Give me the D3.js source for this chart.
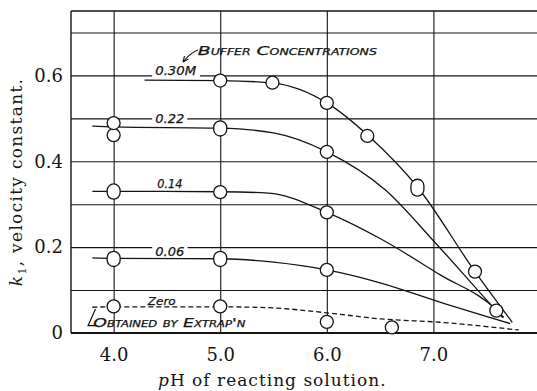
<!DOCTYPE html>
<html>
<head>
<meta charset="utf-8">
<script src="https://cdn.jsdelivr.net/npm/d3@7/dist/d3.min.js"></script>
<style>
  body { margin: 0; background: #fff; }
  svg { display: block; }
</style>
</head>
<body>
<div id="chart"></div>
<script>
// pH values and tick labels
const xTicks = [4.0, 5.0, 6.0, 7.0];
const xTickLabels = ["4.0", "5.0", "6.0", "7.0"];
const yTicks = [0, 0.2, 0.4, 0.6];
const yTickLabels = ["0", "0.2", "0.4", "0.6"];
const yGrid = [0.1, 0.2, 0.3, 0.4, 0.5, 0.6, 0.7];

const seriesNames = ["0.30M", "0.22", "0.14", "0.06", "Zero"];

// drawn curves, [pH, k1]
const curve30 = [[4.29, 0.589], [5.0, 0.588], [5.5, 0.582], [6.0, 0.536], [6.4, 0.457], [6.85, 0.34], [7.39, 0.143], [7.74, 0.025]];
const curve22 = [[3.8, 0.482], [4.0, 0.48], [5.0, 0.477], [5.5, 0.466], [6.0, 0.422], [6.55, 0.333], [7.0, 0.215], [7.59, 0.052], [7.65, 0.036]];
const curve14 = [[3.8, 0.33], [4.0, 0.33], [5.0, 0.329], [5.45, 0.326], [6.0, 0.281], [6.5, 0.22], [7.06, 0.136], [7.59, 0.054], [7.66, 0.036]];
const curve06 = [[3.8, 0.175], [4.0, 0.174], [5.0, 0.173], [5.5, 0.165], [6.0, 0.147], [6.5, 0.117], [7.06, 0.072], [7.72, 0.022]];
const curveZero = [[3.8, 0.06], [4.0, 0.061], [5.0, 0.061], [5.45, 0.059], [6.0, 0.047], [6.5, 0.033], [7.06, 0.025], [7.5, 0.015], [7.8, 0.007]];

// measured points, [pH, k1 low, k1 high] (low != high drawn as an oval)
const points30 = [[5.0, 0.588, 0.588], [5.49, 0.583, 0.583], [6.0, 0.536, 0.536], [6.38, 0.459, 0.459], [6.85, 0.334, 0.343], [7.39, 0.143, 0.143]];
const points22 = [[4.0, 0.461, 0.461], [4.0, 0.489, 0.489], [5.0, 0.474, 0.479], [6.0, 0.422, 0.422], [7.59, 0.052, 0.052]];
const points14 = [[4.0, 0.327, 0.332], [5.0, 0.328, 0.328], [6.0, 0.281, 0.281]];
const points06 = [[4.0, 0.17, 0.175], [5.0, 0.17, 0.175], [6.0, 0.147, 0.147]];
const pointsZero = [[4.0, 0.062, 0.062], [5.0, 0.062, 0.062], [6.0, 0.026, 0.026], [6.61, 0.013, 0.013]];

const W = 537, H = 391;
const x = d3.scaleLinear().domain([3.6, 8.0]).range([71, 540]);
const y = d3.scaleLinear().domain([0, 0.75]).range([333, 11]);
const ink = "#141414";
const serif = "'DejaVu Serif', serif";
const hand = "'DejaVu Sans', sans-serif";

const svg = d3.select("#chart").append("svg")
  .attr("width", W).attr("height", H)
  .attr("viewBox", `0 0 ${W} ${H}`);

svg.append("rect").attr("width", W).attr("height", H).attr("fill", "#fff");

// grid
const yGridG = svg.append("g")
  .attr("transform", `translate(${x(3.6)},0)`)
  .call(d3.axisLeft(y).tickValues(yGrid).tickSize(-(W - x(3.6))).tickFormat(""));
yGridG.select(".domain").remove();
yGridG.selectAll("line").attr("stroke", ink).attr("stroke-width", 1.1);

const xGridG = svg.append("g")
  .attr("transform", `translate(0,${y(0)})`)
  .call(d3.axisBottom(x).tickValues(xTicks).tickSize(-(y(0) - y(0.75))).tickFormat(""));
xGridG.select(".domain").remove();
xGridG.selectAll("line").attr("stroke", ink).attr("stroke-width", 1.1);

// frame
svg.append("line").attr("x1", x(3.6)).attr("x2", x(3.6)).attr("y1", y(0.75)).attr("y2", y(0))
  .attr("stroke", ink).attr("stroke-width", 1.4);
svg.append("line").attr("x1", x(3.6)).attr("x2", W).attr("y1", y(0.75)).attr("y2", y(0.75))
  .attr("stroke", ink).attr("stroke-width", 1.6);
svg.append("line").attr("x1", x(3.6)).attr("x2", W).attr("y1", y(0)).attr("y2", y(0))
  .attr("stroke", ink).attr("stroke-width", 2.2);

// tick labels
const yAx = svg.append("g")
  .attr("transform", `translate(${x(3.6)},0)`)
  .call(d3.axisLeft(y).tickValues(yTicks).tickSize(0).tickPadding(8)
    .tickFormat((d, i) => yTickLabels[i]));
yAx.select(".domain").remove();
yAx.selectAll("text").attr("font-family", serif).attr("font-size", 18).attr("fill", ink);

const xAx = svg.append("g")
  .attr("transform", `translate(0,${y(0)})`)
  .call(d3.axisBottom(x).tickValues(xTicks).tickSize(0).tickPadding(15)
    .tickFormat((d, i) => xTickLabels[i]));
xAx.select(".domain").remove();
xAx.selectAll("text").attr("font-family", serif).attr("font-size", 18).attr("fill", ink);

// axis titles
const xt = svg.append("text")
  .attr("x", 158).attr("y", 386)
  .attr("letter-spacing", 1)
  .attr("font-family", serif).attr("font-size", 17).attr("fill", ink);
xt.append("tspan").attr("font-style", "italic").text("p");
xt.append("tspan").text("H of reacting solution.");

const yt = svg.append("text")
  .attr("transform", "translate(22,182) rotate(-90)")
  .attr("text-anchor", "middle")
  .attr("letter-spacing", 1.3)
  .attr("font-family", serif).attr("font-size", 17).attr("fill", ink);
yt.append("tspan").attr("font-style", "italic").text("k");
yt.append("tspan").attr("font-size", 11).attr("dy", 4).text("1");
yt.append("tspan").attr("dy", -4).text(", velocity constant.");

// series labels (white box breaks the grid line behind them)
function handLabel(px, k, txt, opts) {
  const g = svg.append("g");
  const t = g.append("text")
    .attr("x", x(px)).attr("y", y(k))
    .attr("font-family", hand).attr("font-style", "italic")
    .attr("font-size", opts.size || 12)
    .attr("fill", ink)
    .attr("stroke", ink).attr("stroke-width", 0.25)
    .text(txt);
  if (opts.smallCaps) t.attr("font-variant", "small-caps");
  if (opts.len) t.attr("textLength", opts.len).attr("lengthAdjust", "spacingAndGlyphs");
  if (opts.gap) {
    const b = t.node().getBBox();
    g.insert("rect", "text")
      .attr("x", b.x - 3).attr("y", b.y)
      .attr("width", b.width + 6).attr("height", b.height)
      .attr("fill", "#fff");
  }
  return t;
}

handLabel(4.39, 0.601, seriesNames[0], { len: 41, gap: true });
handLabel(4.39, 0.49, seriesNames[1], { len: 29, gap: true });
handLabel(4.41, 0.338, seriesNames[2], { len: 25 });
handLabel(4.39, 0.179, seriesNames[3], { len: 29, gap: true });
handLabel(4.32, 0.065, seriesNames[4], { size: 11, len: 28 });
handLabel(4.79, 0.648, "Buffer Concentrations", { size: 12, smallCaps: true, len: 179 });
handLabel(3.81, 0.014, "Obtained by Extrap'n", { size: 12, smallCaps: true, len: 152 });

// lines
const line = d3.line().x(d => x(d[0])).y(d => y(d[1])).curve(d3.curveMonotoneX);
const curves = [curve30, curve22, curve14, curve06, curveZero];
curves.forEach((c, i) => {
  svg.append("path").datum(c)
    .attr("d", line)
    .attr("fill", "none")
    .attr("stroke", ink)
    .attr("stroke-width", 1.3)
    .attr("stroke-dasharray", seriesNames[i] === "Zero" ? "5,3" : null);
});

// points
const r = 6.5;
const pointSets = [points30, points22, points14, points06, pointsZero];
pointSets.forEach(ps => {
  svg.append("g").selectAll("rect").data(ps).join("rect")
    .attr("x", d => x(d[0]) - r)
    .attr("y", d => y(d[2]) - r)
    .attr("width", 2 * r)
    .attr("height", d => y(d[1]) - y(d[2]) + 2 * r)
    .attr("rx", r).attr("ry", r)
    .attr("fill", "#fff")
    .attr("stroke", ink)
    .attr("stroke-width", 1.3);
});

// arrow and bracket
svg.append("path")
  .attr("d", "M198,50 Q190,53 183,62")
  .attr("fill", "none").attr("stroke", ink).attr("stroke-width", 1.1);
svg.append("path")
  .attr("d", "M183,62 L184.5,56 M183,62 L188.5,59")
  .attr("fill", "none").attr("stroke", ink).attr("stroke-width", 1.1);
svg.append("path")
  .attr("d", `M${x(3.83)},${y(0.056)} L${x(3.76)},${y(0.017)} L${x(3.83)},${y(0.017)}`)
  .attr("fill", "none").attr("stroke", ink).attr("stroke-width", 1.2);
</script>
</body>
</html>
